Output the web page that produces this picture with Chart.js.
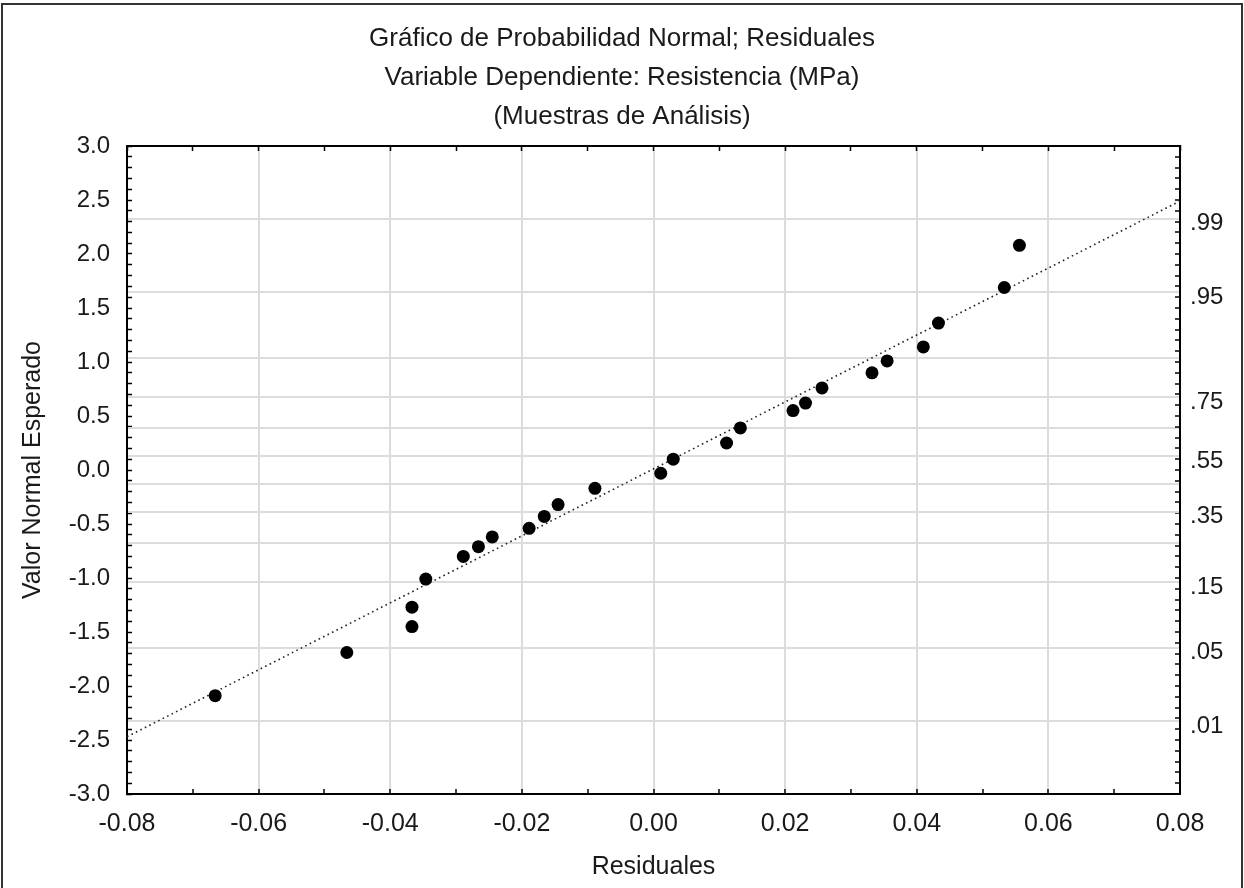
<!DOCTYPE html>
<html lang="es">
<head>
<meta charset="UTF-8">
<title>Gráfico de Probabilidad Normal; Residuales</title>
<style>
  body { margin: 0; background: #fff; }
  #wrap { position: relative; width: 1244px; height: 888px; }
  #frame { position: absolute; left: 1px; top: 3px; width: 1238px; height: 900px; border: 2px solid #333; pointer-events: none; }
</style>
</head>
<body>
<div id="wrap">
  <canvas id="myChart" width="1244" height="888"></canvas>
  <div id="frame"></div>
</div>
<script src="https://cdn.jsdelivr.net/npm/chart.js@4.4.0/dist/chart.umd.min.js"></script>
<script>
// residuals vs expected normal value
const residuals = [-0.0666, -0.0466, -0.0367, -0.0367, -0.0346, -0.0289, -0.0266, -0.0245, -0.0189, -0.0166, -0.0145, -0.0089,
                   0.0011, 0.0030, 0.0111, 0.0132, 0.0212, 0.0231, 0.0256, 0.0332, 0.0355, 0.0410, 0.0433, 0.0533, 0.0556];
const expected = [-2.09, -1.69, -1.45, -1.27, -1.01, -0.80, -0.71, -0.62, -0.54, -0.43, -0.32, -0.17,
                  -0.03, 0.10, 0.25, 0.39, 0.55, 0.62, 0.76, 0.90, 1.01, 1.14, 1.36, 1.69, 2.08];

// reference line end points
const fitX = [-0.08, 0.08];
const fitY = [-2.47, 2.49];

const xMajor = [-0.08, -0.06, -0.04, -0.02, 0, 0.02, 0.04, 0.06, 0.08];
const xMinor = [-0.07, -0.05, -0.03, -0.01, 0.01, 0.03, 0.05, 0.07];
const yMajor = [-3, -2.5, -2, -1.5, -1, -0.5, 0, 0.5, 1, 1.5, 2, 2.5, 3];
const yMinor = [];
for (let k = -30; k <= 30; k++) if (k % 5 !== 0) yMinor.push(k / 10);

// right axis: cumulative probability and its normal z value
const probZ = [-2.326, -1.645, -1.036, -0.674, -0.385, -0.126, 0.126, 0.385, 0.674, 1.036, 1.645, 2.326];
const probLabels = ['.01', '.05', '.15', '', '.35', '', '.55', '', '.75', '', '.95', '.99'];

const FAMILY = "'Liberation Sans', Arial, sans-serif";
const TEXT = '#1a1a1a';
const GRID = '#dcdcdc';

const xTicks = xMajor.map(v => ({ value: v, lab: v.toFixed(2), grid: Math.abs(v) < 0.079 }))
  .concat(xMinor.map(v => ({ value: v, lab: '', grid: false })))
  .sort((a, b) => a.value - b.value);
const yTicks = yMajor.map(v => ({ value: v, lab: v.toFixed(1) }))
  .concat(yMinor.map(v => ({ value: v, lab: '' })))
  .sort((a, b) => a.value - b.value);
const y1Ticks = yMajor.concat(yMinor).map(v => ({ value: v, lab: '', grid: false, mark: true }))
  .concat(probZ.map((z, i) => ({ value: z, lab: probLabels[i], grid: true, mark: false })))
  .sort((a, b) => a.value - b.value);

const border = { display: true, color: '#000', width: 2 };

new Chart(document.getElementById('myChart'), {
  type: 'scatter',
  data: {
    datasets: [
      {
        data: residuals.map((r, i) => ({ x: r, y: expected[i] })),
        pointRadius: 6.5,
        pointBackgroundColor: '#000',
        pointBorderWidth: 0,
        xAxisID: 'x',
        yAxisID: 'y'
      },
      {
        data: fitX.map((v, i) => ({ x: v, y: fitY[i] })),
        showLine: true,
        pointRadius: 0,
        borderColor: '#222',
        borderWidth: 1.6,
        borderDash: [1.6, 3.4],
        xAxisID: 'x',
        yAxisID: 'y'
      }
    ]
  },
  options: {
    responsive: false,
    animation: false,
    events: [],
    layout: { padding: 0 },
    plugins: {
      legend: { display: false },
      tooltip: { enabled: false },
      title: {
        display: true,
        text: ['Gráfico de Probabilidad Normal; Residuales',
               'Variable Dependiente: Resistencia (MPa)',
               '(Muestras de Análisis)'],
        color: TEXT,
        font: { family: FAMILY, size: 26, weight: 'normal', lineHeight: 1.5 },
        padding: { top: 19, bottom: 0 }
      }
    },
    scales: {
      x: {
        type: 'linear', position: 'bottom', min: -0.08, max: 0.08,
        afterBuildTicks: s => { s.ticks = xTicks.map(t => ({ ...t })); },
        afterFit: s => { s.height = 94; },
        border: border,
        grid: {
          color: GRID,
          lineWidth: c => (c.tick && c.tick.grid ? 2 : 0),
          tickLength: -5, tickColor: '#000', tickWidth: 1.5
        },
        ticks: {
          autoSkip: false, maxRotation: 0, padding: 20, color: TEXT,
          font: { family: FAMILY, size: 25 },
          callback: (v, i, ticks) => ticks[i].lab
        },
        title: {
          display: true, text: 'Residuales', color: TEXT,
          font: { family: FAMILY, size: 25 },
          padding: { top: 0, bottom: 6 }
        }
      },
      x2: {
        type: 'linear', position: 'top', min: -0.08, max: 0.08,
        afterBuildTicks: s => { s.ticks = xTicks.map(t => ({ ...t })); },
        afterFit: s => { s.height = 10; },
        border: border,
        grid: { drawOnChartArea: false, tickLength: -5, tickColor: '#000', tickWidth: 1.5 },
        ticks: { display: false, autoSkip: false }
      },
      y: {
        type: 'linear', position: 'left', min: -3, max: 3,
        afterBuildTicks: s => { s.ticks = yTicks.map(t => ({ ...t })); },
        afterFit: s => { s.width = 127; },
        border: border,
        grid: { drawOnChartArea: false, tickLength: -5, tickColor: '#000', tickWidth: 1.5 },
        ticks: {
          autoSkip: false, padding: 22, color: TEXT,
          font: { family: FAMILY, size: 24 },
          callback: (v, i, ticks) => ticks[i].lab
        },
        title: {
          display: true, text: 'Valor Normal Esperado', color: TEXT,
          font: { family: FAMILY, size: 25 },
          padding: { top: 18, bottom: 0 }
        }
      },
      y1: {
        type: 'linear', position: 'right', min: -3, max: 3,
        afterBuildTicks: s => { s.ticks = y1Ticks.map(t => ({ ...t })); },
        afterFit: s => { s.width = 64; },
        border: border,
        grid: {
          color: GRID,
          lineWidth: c => (c.tick && c.tick.grid ? 2 : 0),
          tickLength: -5,
          tickColor: c => (c.tick && c.tick.mark ? '#000' : 'rgba(0,0,0,0)'),
          tickWidth: 1.5
        },
        ticks: {
          autoSkip: false, padding: 15, labelOffset: 5, color: TEXT,
          font: { family: FAMILY, size: 24 },
          callback: (v, i, ticks) => ticks[i].lab
        }
      }
    }
  }
});
</script>
</body>
</html>
